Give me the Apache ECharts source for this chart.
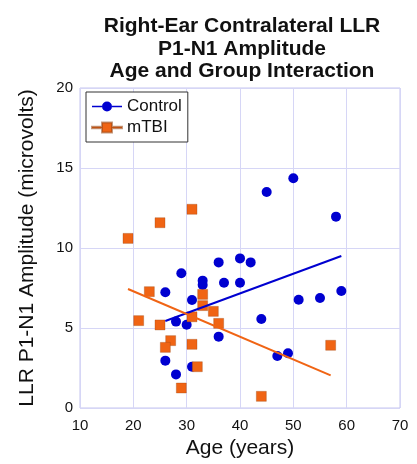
<!DOCTYPE html>
<html>
<head>
<meta charset="utf-8">
<script src="https://cdn.jsdelivr.net/npm/echarts@6/dist/echarts.min.js"></script>
<style>html,body{margin:0;padding:0;background:#fff;}#c{width:417px;height:464px;}</style>
</head>
<body>
<div id="c"></div>
<script>
var controlAge = [45, 50, 58, 36, 40, 42, 29, 33, 33, 37, 40, 26, 31, 28, 30, 36, 26, 31, 28, 44, 51, 55, 59, 47, 49];
var controlAmp = [13.5, 14.36, 11.96, 9.1, 9.35, 9.1, 8.42, 7.96, 7.69, 7.83, 7.83, 7.23, 6.75, 5.4, 5.2, 4.46, 2.96, 2.58, 2.1, 5.56, 6.77, 6.88, 7.31, 3.25, 3.42];
var tbiAge = [19, 25, 31, 23, 21, 25, 27, 26, 31, 32, 29, 33, 33, 31, 35, 36, 57, 44];
var tbiAmp = [10.6, 11.58, 12.42, 7.27, 5.46, 5.19, 4.21, 3.79, 3.98, 2.58, 1.25, 7.1, 6.4, 5.7, 6.04, 5.29, 3.92, 0.73];
var controlFitAge = [26, 59];
var controlFitAmp = [5.44, 9.5];
var tbiFitAge = [19, 57];
var tbiFitAmp = [7.44, 2.04];
var xTicks = [10, 20, 30, 40, 50, 60, 70];
var yTicks = [0, 5, 10, 15, 20];

function pairs(a, b) { return a.map(function (v, i) { return [v, b[i]]; }); }

var FONT = 'Liberation Sans, Arial, sans-serif';
var BLUE = '#0000d0';
var ORANGE = '#f06414';
var GRIDC = '#d6d6f6';

var ctrlIcon = 'path://M0,4.25H10V5.75H0Z M20,4.25H30V5.75H20Z M10,5A5,5 0 1,0 20,5A5,5 0 1,0 10,5Z';
var tbiIcon = 'path://M0,4.25H10V5.75H0Z M20,4.25H30V5.75H20Z M10,0H20V10H10Z';

var chart = echarts.init(document.getElementById('c'), null, {renderer: 'canvas'});
chart.setOption({
  animation: false,
  backgroundColor: '#fff',
  textStyle: {fontFamily: FONT},
  title: {
    text: 'Right-Ear Contralateral LLR\nP1-N1 Amplitude\nAge and Group Interaction',
    left: 237, top: 10, textAlign: 'center',
    textStyle: {fontFamily: FONT, fontSize: 21, fontWeight: 'bold', lineHeight: 22.5, color: '#111'}
  },
  grid: {left: 80, right: 17, top: 88, bottom: 56, show: true, borderColor: '#c4c4ee', borderWidth: 1},
  legend: {
    orient: 'vertical', left: 86, top: 92,
    backgroundColor: '#fff', borderColor: '#333', borderWidth: 1, borderRadius: 0,
    padding: [6, 6, 6, 5], itemGap: 4, itemWidth: 30, itemHeight: 10,
    textStyle: {fontFamily: FONT, fontSize: 17, lineHeight: 17, color: '#111'},
    data: [{name: 'Control', icon: ctrlIcon}, {name: 'mTBI', icon: tbiIcon}]
  },
  xAxis: {
    type: 'value', min: xTicks[0], max: xTicks[xTicks.length - 1], interval: 10,
    name: 'Age (years)', nameLocation: 'middle', nameGap: 30,
    nameTextStyle: {fontFamily: FONT, fontSize: 21, color: '#111'},
    axisLine: {show: false}, axisTick: {show: false},
    axisLabel: {fontFamily: FONT, fontSize: 15, color: '#111', margin: 10},
    splitLine: {show: true, lineStyle: {color: GRIDC, width: 1}}
  },
  yAxis: {
    type: 'value', min: yTicks[0], max: yTicks[yTicks.length - 1], interval: 5,
    name: 'LLR P1-N1 Amplitude (microvolts)', nameLocation: 'middle', nameGap: 42,
    nameTextStyle: {fontFamily: FONT, fontSize: 21, color: '#111'},
    axisLine: {show: false}, axisTick: {show: false},
    axisLabel: {fontFamily: FONT, fontSize: 15, color: '#111', margin: 7},
    splitLine: {show: true, lineStyle: {color: GRIDC, width: 1}}
  },
  series: [
    {name: 'Control', type: 'scatter', symbol: 'circle', symbolSize: 10,
     itemStyle: {color: BLUE, opacity: 1}, data: pairs(controlAge, controlAmp), z: 2},
    {name: 'mTBI', type: 'scatter', symbol: 'rect', symbolSize: 10,
     itemStyle: {color: ORANGE, opacity: 1, borderColor: 'rgba(150,70,20,0.55)', borderWidth: 0.6},
     data: pairs(tbiAge, tbiAmp), z: 3},
    {name: 'Control fit', type: 'line', showSymbol: false, silent: true,
     lineStyle: {color: BLUE, width: 2}, data: pairs(controlFitAge, controlFitAmp), z: 4},
    {name: 'mTBI fit', type: 'line', showSymbol: false, silent: true,
     lineStyle: {color: ORANGE, width: 2}, data: pairs(tbiFitAge, tbiFitAmp), z: 5}
  ]
});
</script>
</body>
</html>
